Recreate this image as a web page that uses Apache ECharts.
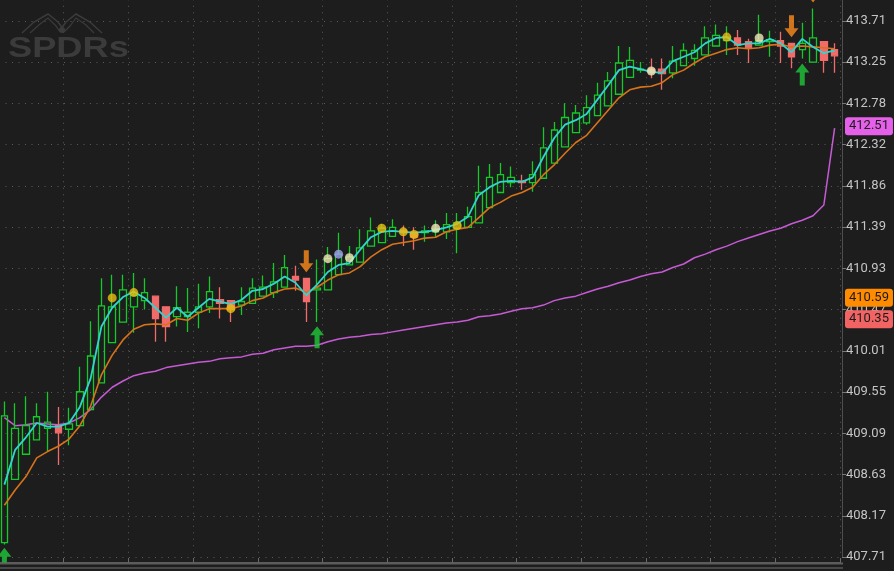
<!DOCTYPE html>
<html><head><meta charset="utf-8">
<script src="https://cdn.jsdelivr.net/npm/echarts@6/dist/echarts.min.js"></script>
<style>html,body{margin:0;padding:0;background:#1d1d1d;}#c{width:894px;height:571px;}</style>
</head><body><div id="c"></div>
<script>
// ---- data ----
const categories = ['1','2','3','4','5','6','7','8','9','10','11','12','13','14','15','16','17','18','19','20',
'21','22','23','24','25','26','27','28','29','30','31','32','33','34','35','36','37','38','39','40',
'41','42','43','44','45','46','47','48','49','50','51','52','53','54','55','56','57','58','59','60',
'61','62','63','64','65','66','67','68','69','70','71','72','73','74','75','76','77','78'];

const openPrices = [407.87,408.58,408.86,409.02,409.15,409.18,409.14,409.18,409.36,409.66,
410.11,410.34,410.51,410.58,410.63,410.51,410.40,410.40,410.45,410.51,
410.59,410.58,410.53,410.55,410.63,410.67,410.73,410.85,410.83,410.70,
410.70,410.87,410.98,411.01,411.19,411.23,411.30,411.37,411.34,411.34,
411.35,411.35,411.39,411.40,411.45,411.62,411.79,411.90,411.92,411.90,
411.95,412.12,412.30,412.46,412.57,412.65,412.76,412.89,413.08,413.16,
413.17,413.17,413.13,413.21,413.29,413.33,413.43,413.49,413.52,413.48,
413.44,413.48,413.49,413.46,413.39,413.25,413.48,413.39];

const closePrices = [409.29,409.15,409.18,409.28,409.22,409.10,409.20,409.56,409.96,410.52,
410.51,410.70,410.64,410.67,410.38,410.29,410.50,410.45,410.51,410.68,
410.55,410.48,410.57,410.72,410.73,410.79,410.95,410.81,410.57,410.72,
411.05,411.10,411.07,411.17,411.36,411.39,411.40,411.34,411.29,411.36,
411.38,411.43,411.45,411.52,411.79,411.96,411.99,411.96,411.90,411.99,
412.29,412.49,412.63,412.68,412.74,412.88,413.04,413.24,413.27,413.17,
413.13,413.12,413.26,413.38,413.38,413.52,413.55,413.53,413.44,413.41,
413.49,413.50,413.43,413.31,413.46,413.52,413.27,413.32];

const lowPrices = [407.85,408.58,408.86,409.02,408.89,408.74,408.96,409.18,409.36,409.66,
410.11,410.34,410.22,410.48,410.12,410.12,410.29,410.23,410.27,410.44,
410.38,410.34,410.42,410.55,410.63,410.61,410.73,410.69,410.34,410.34,
410.70,410.87,410.98,411.01,411.19,411.23,411.30,411.19,411.15,411.24,
411.29,411.27,411.11,411.40,411.45,411.62,411.79,411.85,411.82,411.80,
411.95,412.12,412.30,412.46,412.55,412.65,412.76,412.89,413.08,413.13,
413.07,412.94,413.07,413.21,413.21,413.33,413.43,413.33,413.33,413.24,
413.44,413.31,413.24,413.18,413.29,413.25,413.13,413.13];

const highPrices = [409.45,409.43,409.51,409.43,409.56,409.39,409.38,409.84,410.35,410.83,
410.87,410.87,410.89,410.83,410.63,410.51,410.74,410.72,410.77,410.85,
410.73,410.58,410.73,410.83,410.86,411.00,411.09,410.97,410.83,411.04,
411.18,411.34,411.19,411.38,411.51,411.44,411.49,411.42,411.40,411.42,
411.48,411.56,411.56,411.63,412.09,412.11,412.12,412.08,411.99,412.14,
412.52,412.58,412.79,412.77,412.88,413.02,413.14,413.43,413.42,413.25,
413.29,413.29,413.43,413.46,413.45,413.65,413.67,413.65,413.61,413.51,
413.78,413.60,413.59,413.46,413.69,413.85,413.48,413.46];

const fastLine = [408.52,408.91,409.05,409.21,409.17,409.17,409.21,409.39,409.71,410.29,
410.50,410.62,410.68,410.61,410.50,410.39,410.50,410.40,410.50,410.60,
410.57,410.54,410.59,410.69,410.71,410.77,410.85,410.78,410.64,410.76,
410.90,410.98,411.00,411.15,411.29,411.35,411.36,411.35,411.34,411.35,
411.37,411.40,411.44,411.52,411.76,411.85,411.91,411.92,411.91,411.96,
412.19,412.40,412.55,412.60,412.67,412.83,412.99,413.16,413.20,413.17,
413.14,413.13,413.26,413.31,413.36,413.46,413.52,413.53,413.44,413.46,
413.46,413.51,413.46,413.36,413.51,413.42,413.35,413.38];

const slowLine = [408.29,408.46,408.61,408.82,408.89,408.95,409.03,409.18,409.40,409.75,
409.97,410.14,410.26,410.31,410.32,410.31,410.38,410.36,410.44,410.49,
410.49,410.49,410.52,410.58,410.61,410.67,410.71,410.72,410.67,410.73,
410.81,410.87,410.89,410.96,411.07,411.15,411.21,411.23,411.25,411.28,
411.29,411.35,411.38,411.40,411.51,411.62,411.68,411.75,411.79,411.85,
411.99,412.10,412.23,412.35,412.43,412.57,412.71,412.85,412.94,412.97,
412.98,413.02,413.11,413.16,413.24,413.31,413.35,413.39,413.41,413.40,
413.41,413.44,413.45,413.42,413.43,413.42,413.41,413.40];

const vwapLine = [409.27,409.18,409.19,409.21,409.20,409.19,409.21,409.27,409.36,409.50,
409.61,409.68,409.74,409.77,409.79,409.83,409.85,409.87,409.89,409.90,
409.93,409.94,409.95,409.98,409.99,410.03,410.05,410.07,410.07,410.08,
410.12,410.15,410.17,410.18,410.20,410.21,410.23,410.25,410.27,410.29,
410.31,410.33,410.34,410.36,410.40,410.41,410.43,410.46,410.49,410.50,
410.53,410.58,410.61,410.63,410.67,410.71,410.74,410.78,410.81,410.85,
410.88,410.90,410.95,410.99,411.06,411.10,411.15,411.19,411.24,411.28,
411.32,411.36,411.39,411.44,411.48,411.53,411.65,412.51];

const yellowDots = [[10,410.61],[12,410.67],[21,410.49],[35,411.39],[37,411.35],[38,411.32],[42,411.42],[67,413.53]];
const creamDots = [[30,411.05],[32,411.06],[40,411.39],[60,413.15],[70,413.52]];
const lavenderDots = [[31,411.10]];

const upArrows = [[0,407.69],[29,410.17],[74,413.11]];
const downArrows = [[28,411.02],[73,413.65],[75,414.04]];

const orangeBadge = 410.59;
const redBadge = 410.35;

const tickLabels = ['407.71','408.17','408.63','409.09','409.55','410.01','410.47','410.93','411.39','411.86','412.32','412.78','413.25','413.71'];
const yMin = 407.71;
const yStep = 6 / 13;

// ---- chart ----
const candleData = openPrices.map((o, i) => [o, closePrices[i], lowPrices[i], highPrices[i]]);

const UP_ARROW = 'path://M7,0 L14,9 L9.5,9 L9.5,22 L4.5,22 L4.5,9 L0,9 Z';
const DOWN_ARROW = 'path://M4.5,0 L9.5,0 L9.5,13 L14,13 L7,22 L0,13 L4.5,13 Z';

function badgeLine(value, bg) {
  return {
    silent: true, symbol: 'none', z: 20,
    lineStyle: {color: 'rgba(0,0,0,0)', width: 0, opacity: 1},
    label: {
      show: true, position: 'end', distance: 5, offset: [0, -2],
      formatter: p => Number(p.value).toFixed(2),
      color: '#1b1b1b', backgroundColor: bg, padding: [3, 4, 2, 4], borderRadius: 3,
      fontSize: 13, fontFamily: 'Roboto', opacity: 1
    },
    data: [{yAxis: value}]
  };
}

const chart = echarts.init(document.getElementById('c'), null, {renderer: 'canvas'});
chart.setOption({
  backgroundColor: '#1d1d1d',
  animation: false,
  grid: {left: -1, width: 841, top: -20.23, bottom: 14, outerBoundsMode: 'none', containLabel: false},
  xAxis: {
    type: 'category', data: categories, boundaryGap: true, offset: 6,
    axisLine: {show: true, lineStyle: {color: '#5c5c5c', width: 2}},
    axisTick: {show: true, inside: true, length: 5, interval: 5, lineStyle: {color: '#6a6a6a'}},
    axisLabel: {show: false},
    splitLine: {show: true, interval: 5, lineStyle: {color: '#5a5a5a', type: [1, 5.5], width: 1}}
  },
  yAxis: {
    type: 'value', position: 'right', offset: 2,
    min: yMin, max: yMin + 14 * yStep, interval: yStep,
    axisLine: {show: true, lineStyle: {color: '#4e4e4e', width: 1}},
    axisTick: {show: true, length: 4, lineStyle: {color: '#777'}},
    axisLabel: {
      show: true, margin: 4, color: '#c4c4c4', fontSize: 13, fontFamily: 'Roboto',
      formatter: v => {
        const k = Math.round((v - yMin) / yStep);
        return (Math.abs(yMin + k * yStep - v) < 1e-6 && tickLabels[k]) || '';
      }
    },
    splitLine: {show: true, lineStyle: {color: '#5a5a5a', type: [1, 5.5], width: 1}}
  },
  series: [
    {
      type: 'line', data: vwapLine, symbol: 'none', z: 2, clip: false,
      lineStyle: {color: '#c65ad4', width: 1.5},
      markLine: badgeLine(vwapLine[vwapLine.length - 1], '#e560e8')
    },
    {
      type: 'candlestick', data: candleData, barWidth: 7, z: 3, clip: false,
      itemStyle: {color: 'rgba(0,0,0,0)', color0: '#f26b6b', borderColor: '#16c92a', borderColor0: '#f26b6b', borderWidth: 1.3},
      markLine: badgeLine(redBadge, '#f26464')
    },
    {
      type: 'line', data: slowLine, symbol: 'none', z: 4, clip: false,
      lineStyle: {color: '#d8731a', width: 1.6},
      markLine: badgeLine(orangeBadge, '#ff8c00')
    },
    {
      type: 'line', data: fastLine, symbol: 'none', z: 5,
      lineStyle: {color: '#30d6cc', width: 1.8}
    },
    {type: 'scatter', data: yellowDots, symbol: 'circle', symbolSize: 9, z: 6, itemStyle: {color: '#e8bf12'}},
    {type: 'scatter', data: creamDots, symbol: 'circle', symbolSize: 9, z: 6, itemStyle: {color: '#f4eab8'}},
    {type: 'scatter', data: lavenderDots, symbol: 'circle', symbolSize: 9, z: 6, itemStyle: {color: '#a3a3f2'}},
    {type: 'scatter', data: upArrows, symbol: UP_ARROW, symbolSize: [14, 22], clip: false, z: 7, itemStyle: {color: '#1fc83a'}},
    {type: 'scatter', data: downArrows, symbol: DOWN_ARROW, symbolSize: [14, 22], clip: false, z: 7, itemStyle: {color: '#ff8c1a'}}
  ],
  graphic: [
    {type: 'rect', left: 0, top: 564, shape: {width: 843, height: 7}, style: {fill: '#1d1d1d'}, z: 50},
    {type: 'line', shape: {x1: 0, y1: 563.5, x2: 843, y2: 563.5}, style: {stroke: '#5c5c5c', lineWidth: 2}, z: 51},
    {type: 'line', shape: {x1: 0, y1: 568, x2: 843, y2: 568}, style: {stroke: '#474747', lineWidth: 2}, z: 51},
    {type: 'text', left: 8, top: 34, scaleX: 1.25, z: 1,
      style: {text: 'SPDRs', font: 'bold 29px "Liberation Sans", Arial, sans-serif', fill: '#3b3b3b'}},
    {type: 'polyline', z: 1, shape: {points: [[22,33],[34,22],[48,14],[58,22],[64,30]]}, style: {stroke: '#3b3b3b', lineWidth: 1.5, fill: 'none'}},
    {type: 'polyline', z: 1, shape: {points: [[30,33],[40,24],[48,18],[56,26],[60,32]]}, style: {stroke: '#3b3b3b', lineWidth: 1.2, fill: 'none'}},
    {type: 'polyline', z: 1, shape: {points: [[60,30],[66,22],[76,14],[90,22],[102,33]]}, style: {stroke: '#3b3b3b', lineWidth: 1.5, fill: 'none'}},
    {type: 'polyline', z: 1, shape: {points: [[64,32],[70,26],[76,18],[86,25],[94,33]]}, style: {stroke: '#3b3b3b', lineWidth: 1.2, fill: 'none'}},
    {type: 'circle', z: 1, shape: {cx: 62, cy: 30, r: 3}, style: {fill: '#3b3b3b'}}
  ]
});
</script></body></html>
